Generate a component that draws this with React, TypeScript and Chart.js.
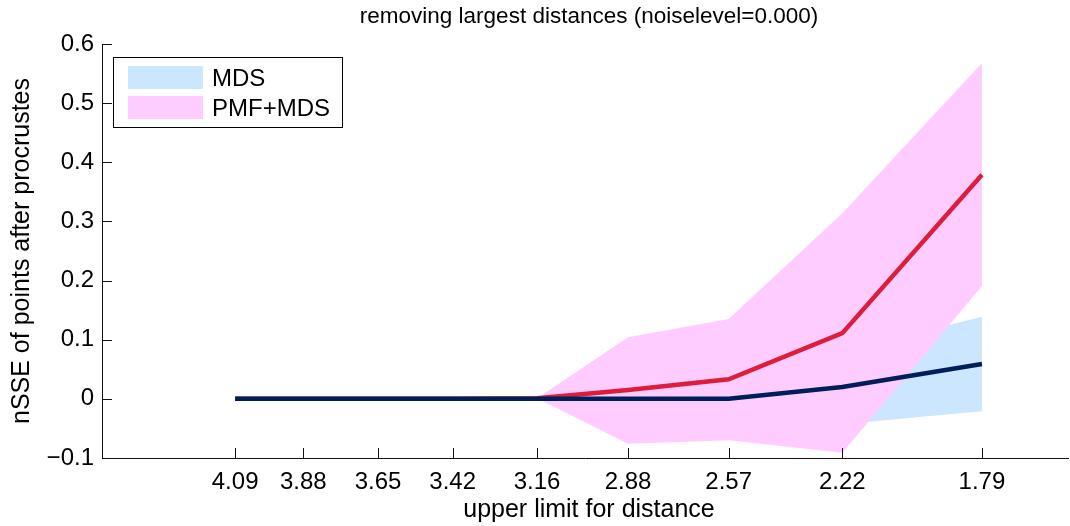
import React, { useEffect, useRef } from "react";
import { Chart, registerables } from "chart.js";

Chart.register(...registerables);

// ---- data ----
const xValues = [4.09, 3.88, 3.65, 3.42, 3.16, 2.88, 2.57, 2.22, 1.79];
const xTickValues = [4.09, 3.88, 3.65, 3.42, 3.16, 2.88, 2.57, 2.22, 1.79];
const xLimits = [1.525, 4.5];
const yLimits = [-0.1, 0.6];

const mdsMean = [0, 0, 0, 0, 0, 0, 0, 0.02, 0.059];
const mdsUpper = [0, 0, 0, 0, 0, 0.001, 0.003, 0.08, 0.139];
const mdsLower = [0, 0, 0, 0, 0, -0.001, -0.003, -0.043, -0.021];

const pmfMean = [0, 0, 0, 0, 0.001, 0.015, 0.033, 0.111, 0.379];
const pmfUpper = [0, 0, 0, 0, 0.001, 0.104, 0.135, 0.314, 0.568];
const pmfLower = [0, 0, 0, 0, 0.001, -0.076, -0.07, -0.091, 0.191];

const titleText = "removing largest distances (noiselevel=0.000)";
const xTitle = "upper limit for distance";
const yTitle = "nSSE of points after procrustes";
const legendLabels = ["MDS", "PMF+MDS"];

const FONT = "'Liberation Sans', Arial, Helvetica, sans-serif";
const BLUE_FILL = "rgb(204,230,255)";
const PINK_FILL = "rgb(255,204,255)";
const RED = "rgb(220,30,60)";
const NAVY = "rgb(0,30,90)";

const pts = (ys: number[]) => xValues.map((x, i) => ({ x, y: ys[i] }));

const decorPlugin = {
  id: "decor",
  afterDraw(chart: any) {
    const { ctx, chartArea, scales } = chart;
    const xs = scales.x;
    const ys = scales.y;
    ctx.save();
    // inward ticks
    ctx.strokeStyle = "#111";
    ctx.lineWidth = 1;
    ctx.beginPath();
    xTickValues.forEach((v) => {
      const px = Math.round(xs.getPixelForValue(v)) + 0.5;
      ctx.moveTo(px, chartArea.bottom);
      ctx.lineTo(px, chartArea.bottom - 10);
    });
    ys.ticks.forEach((t: any) => {
      const py = Math.round(ys.getPixelForValue(t.value)) + 0.5;
      ctx.moveTo(chartArea.left, py);
      ctx.lineTo(chartArea.left + 10, py);
    });
    ctx.stroke();

    // title
    ctx.fillStyle = "#000";
    ctx.textAlign = "center";
    ctx.textBaseline = "middle";
    ctx.font = `22.5px ${FONT}`;
    const cx = 589;
    ctx.fillText(titleText, cx, 17);
    // x title
    ctx.font = `25px ${FONT}`;
    ctx.fillText(xTitle, cx, 510);
    // y title
    ctx.save();
    ctx.translate(22, (chartArea.top + chartArea.bottom) / 2);
    ctx.rotate(-Math.PI / 2);
    ctx.fillText(yTitle, 0, 0);
    ctx.restore();

    // legend
    const lx = 113.5, ly = 57.5, lw = 229, lh = 70;
    ctx.fillStyle = "#fff";
    ctx.fillRect(lx, ly, lw, lh);
    ctx.strokeStyle = "#000";
    ctx.lineWidth = 1;
    ctx.strokeRect(lx, ly, lw, lh);
    ctx.fillStyle = BLUE_FILL;
    ctx.fillRect(128, 66, 75, 23);
    ctx.fillStyle = PINK_FILL;
    ctx.fillRect(128, 96, 75, 23);
    ctx.fillStyle = "#000";
    ctx.textAlign = "left";
    ctx.textBaseline = "alphabetic";
    ctx.font = `24px ${FONT}`;
    ctx.fillText(legendLabels[0], 212, 86);
    ctx.fillText(legendLabels[1], 212, 116);
    ctx.restore();
  },
};

export default function App() {
  const ref = useRef<HTMLCanvasElement | null>(null);

  useEffect(() => {
    document.body.style.margin = "0";
    const canvas = ref.current;
    if (!canvas) return;
    const band = (data: number[], color: string, fill: any, order: number) => ({
      data: pts(data),
      borderWidth: 0,
      pointRadius: 0,
      backgroundColor: color,
      borderColor: color,
      fill,
      tension: 0,
      order,
    });
    const chart = new Chart(canvas, {
      type: "line",
      data: {
        datasets: [
          band(mdsUpper, BLUE_FILL, "+1", 5) as any,
          band(mdsLower, BLUE_FILL, false, 4) as any,
          band(pmfUpper, PINK_FILL, "+1", 3) as any,
          band(pmfLower, PINK_FILL, false, 2) as any,
          {
            data: pts(pmfMean),
            borderColor: RED,
            borderWidth: 4.5,
            pointRadius: 0,
            fill: false,
            tension: 0,
            order: 1,
          },
          {
            data: pts(mdsMean),
            borderColor: NAVY,
            borderWidth: 4.5,
            pointRadius: 0,
            fill: false,
            tension: 0,
            order: 0,
          },
        ],
      },
      plugins: [decorPlugin],
      options: {
        responsive: false,
        animation: false,
        layout: { padding: { top: 44, right: 2, left: 0, bottom: 0 } },
        plugins: {
          legend: { display: false },
          title: { display: false },
          tooltip: { enabled: false },
        },
        scales: {
          x: {
            type: "linear",
            min: xLimits[0],
            max: xLimits[1],
            reverse: true,
            afterBuildTicks: (s: any) => {
              s.ticks = xTickValues.map((v) => ({ value: v }));
            },
            afterFit: (s: any) => {
              s.height = 68;
            },
            grid: { display: false, drawTicks: false },
            border: { display: true, color: "#111", width: 1 },
            ticks: {
              autoSkip: false,
              maxRotation: 0,
              padding: 10,
              color: "#000",
              font: { size: 24, family: FONT },
              callback: (v: any) => Number(v).toFixed(2),
            },
          },
          y: {
            type: "linear",
            min: yLimits[0],
            max: yLimits[1],
            afterFit: (s: any) => {
              s.width = 102;
            },
            grid: { display: false, drawTicks: false },
            border: { display: true, color: "#111", width: 1 },
            ticks: {
              stepSize: 0.1,
              padding: 8,
              color: "#000",
              font: { size: 24, family: FONT },
              callback: (v: any) => {
                const r = Math.round(Number(v) * 10) / 10;
                if (r === 0) return "0";
                return r < 0 ? "\u2212" + Math.abs(r).toFixed(1) : r.toFixed(1);
              },
            },
          },
        },
      },
    } as any);
    return () => chart.destroy();
  }, []);

  return <canvas ref={ref} width={1070} height={526} style={{ display: "block" }} />;
}
